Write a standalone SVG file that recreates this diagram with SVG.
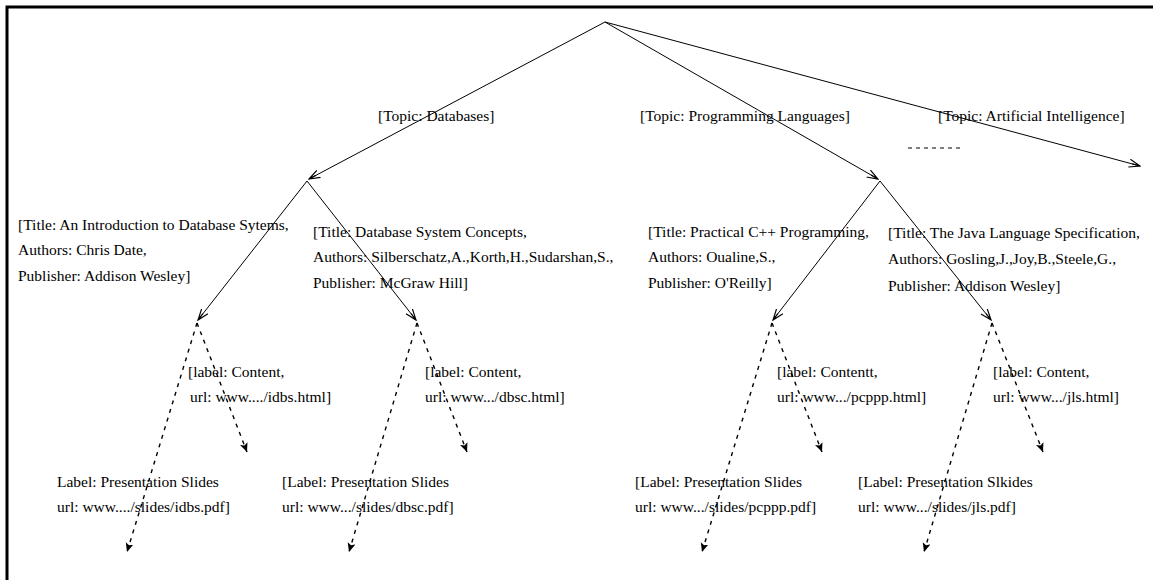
<svg xmlns="http://www.w3.org/2000/svg" width="1153" height="580" viewBox="0 0 1153 580">
<defs>
<style>
text{font-family:"Liberation Serif","Times New Roman",serif;font-size:15.5px;fill:#000}
.e{stroke:#000;stroke-width:1;fill:none}
.d{stroke:#000;stroke-width:1.4;fill:none;stroke-dasharray:4 5}
</style>
<marker id="a" markerUnits="userSpaceOnUse" markerWidth="12" markerHeight="12" refX="11" refY="5" orient="auto">
<path d="M0,1 L11,5 L0,9 M3,5 L11,5" stroke="#000" stroke-width="1.2" fill="none"/>
</marker>
<marker id="b" markerUnits="userSpaceOnUse" markerWidth="10" markerHeight="10" refX="9" refY="4" orient="auto">
<path d="M0,0 L9,4 L0,8 L2,4 Z" fill="#000"/>
</marker>
</defs>
<rect width="1153" height="580" fill="#fff"/>
<path d="M7,580 L7,7 L1153,7" stroke="#000" stroke-width="3" fill="none"/>
<g id="connectors">
<line class="e" x1="605" y1="22" x2="309" y2="179" marker-end="url(#a)"/>
<line class="e" x1="605" y1="22" x2="878" y2="179" marker-end="url(#a)"/>
<line class="e" x1="605" y1="22" x2="1140" y2="166" marker-end="url(#a)"/>
<line class="e" x1="307" y1="181" x2="198" y2="320" marker-end="url(#a)"/>
<line class="e" x1="307" y1="181" x2="416" y2="320" marker-end="url(#a)"/>
<line class="e" x1="880" y1="181" x2="773" y2="320" marker-end="url(#a)"/>
<line class="e" x1="880" y1="181" x2="991" y2="320" marker-end="url(#a)"/>
<line class="d" x1="197" y1="323" x2="127" y2="552" marker-end="url(#b)"/>
<line class="d" x1="197" y1="323" x2="247" y2="452" marker-end="url(#b)"/>
<line class="d" x1="417" y1="323" x2="349" y2="552" marker-end="url(#b)"/>
<line class="d" x1="417" y1="323" x2="467" y2="452" marker-end="url(#b)"/>
<line class="d" x1="772" y1="323" x2="702" y2="552" marker-end="url(#b)"/>
<line class="d" x1="772" y1="323" x2="822" y2="452" marker-end="url(#b)"/>
<line class="d" x1="992" y1="323" x2="924" y2="552" marker-end="url(#b)"/>
<line class="d" x1="992" y1="323" x2="1043" y2="452" marker-end="url(#b)"/>
<line x1="908" y1="148" x2="964" y2="148" stroke="#000" stroke-width="1" stroke-dasharray="4 4"/>
</g>
<g id="topic-labels">
<text x="378" y="121">[Topic: Databases]</text>
<text x="640" y="121">[Topic: Programming Languages]</text>
<text x="938" y="121">[Topic: Artificial Intelligence]</text>
</g>
<g id="book-intro">
<text x="18" y="230">[Title: An Introduction to Database Sytems,</text>
<text x="18" y="255">Authors: Chris Date,</text>
<text x="18" y="281">Publisher: Addison Wesley]</text>
</g>
<g id="book-dbsc">
<text x="313" y="237">[Title: Database System Concepts,</text>
<text x="313" y="262">Authors: Silberschatz,A.,Korth,H.,Sudarshan,S.,</text>
<text x="313" y="288">Publisher: McGraw Hill]</text>
</g>
<g id="book-cpp">
<text x="648" y="237">[Title: Practical C++ Programming,</text>
<text x="648" y="262">Authors: Oualine,S.,</text>
<text x="648" y="288">Publisher: O'Reilly]</text>
</g>
<g id="book-java">
<text x="888" y="238">[Title: The Java Language Specification,</text>
<text x="888" y="264">Authors: Gosling,J.,Joy,B.,Steele,G.,</text>
<text x="888" y="291">Publisher: Addison Wesley]</text>
</g>
<g id="content-idbs">
<text x="188" y="377">[label: Content,</text>
<text x="190" y="402">url: www..../idbs.html]</text>
</g>
<g id="content-dbsc">
<text x="425" y="377">[label: Content,</text>
<text x="425" y="402">url: www.../dbsc.html]</text>
</g>
<g id="content-pcppp">
<text x="777" y="377">[label: Contentt,</text>
<text x="777" y="402">url: www.../pcppp.html]</text>
</g>
<g id="content-jls">
<text x="993" y="377">[label: Content,</text>
<text x="993" y="402">url: www.../jls.html]</text>
</g>
<g id="slides-idbs">
<text x="57" y="487">Label: Presentation Slides</text>
<text x="57" y="512">url: www..../slides/idbs.pdf]</text>
</g>
<g id="slides-dbsc">
<text x="282" y="487">[Label: Presentation Slides</text>
<text x="282" y="512">url: www.../slides/dbsc.pdf]</text>
</g>
<g id="slides-pcppp">
<text x="635" y="487">[Label: Presentation Slides</text>
<text x="635" y="512">url: www.../slides/pcppp.pdf]</text>
</g>
<g id="slides-jls">
<text x="858" y="487">[Label: Presentation Slkides</text>
<text x="858" y="512">url: www.../slides/jls.pdf]</text>
</g>
</svg>
